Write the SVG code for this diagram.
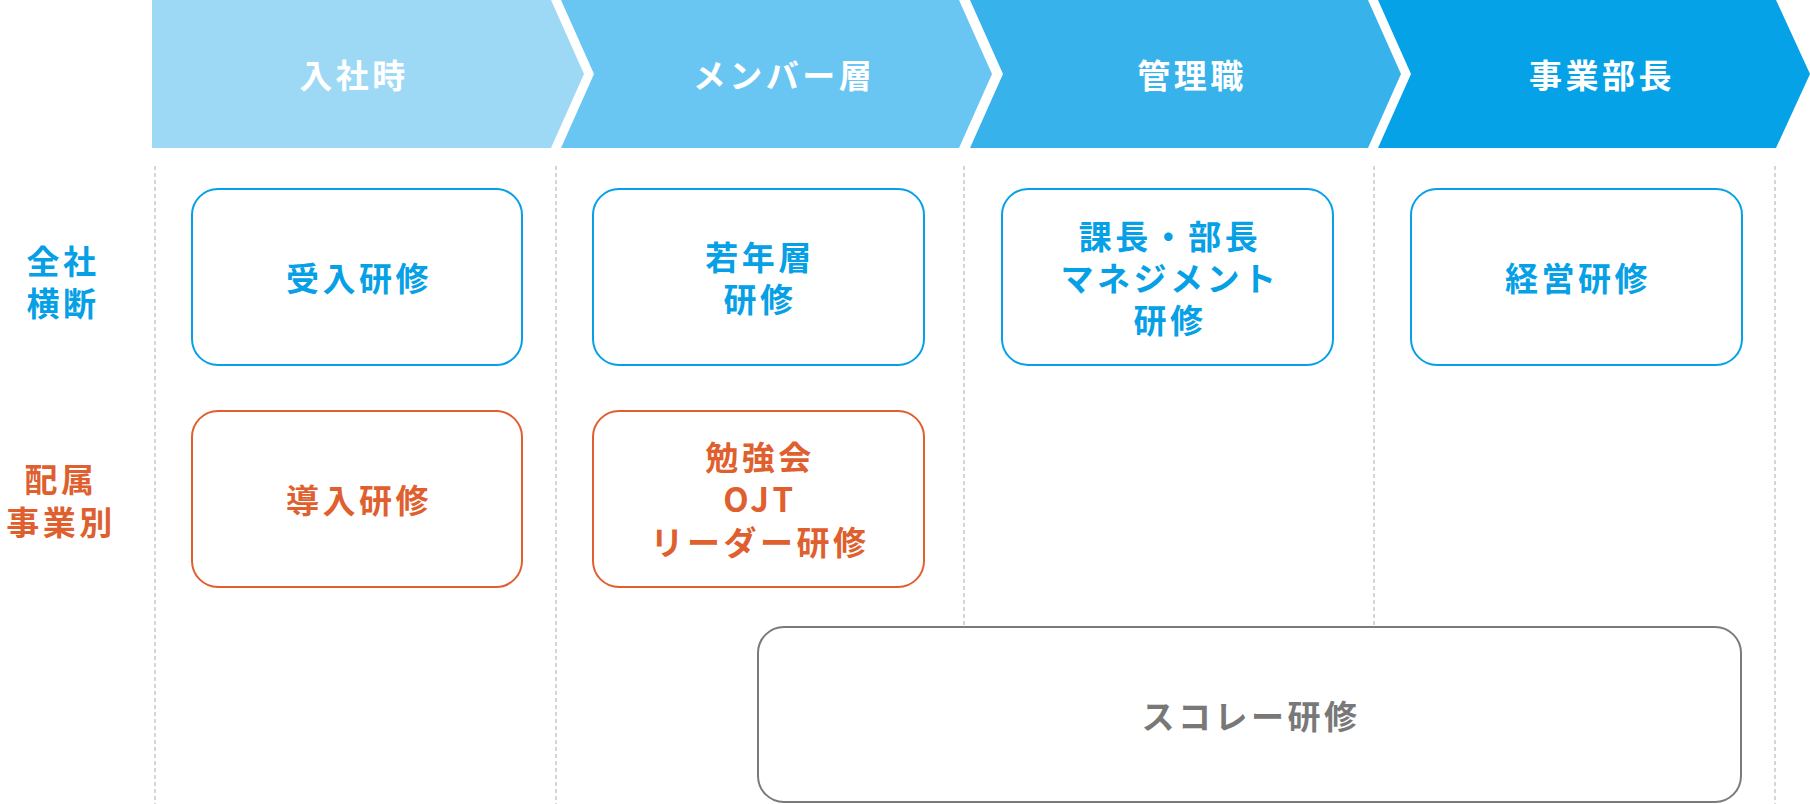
<svg xmlns="http://www.w3.org/2000/svg" width="1810" height="804" viewBox="0 0 1810 804">
<style>
.hd{font-family:"Noto Sans CJK JP","Noto Sans",sans-serif;font-size:33px;font-weight:600;fill:#fff;letter-spacing:3.5px;text-anchor:middle;dominant-baseline:central}
.t{font-family:"Noto Sans CJK JP","Noto Sans",sans-serif;font-size:33px;font-weight:700;letter-spacing:3.5px;text-anchor:middle;dominant-baseline:central}
.blue{fill:#05A0E6}
.orange{fill:#E05F2E}
.gray{fill:#787878}
.bx{fill:#fff;stroke-width:2}
.bb{stroke:#05A0E6}
.bo{stroke:#E05F2E}
.bg{stroke:#7a7a7a}
.dash{stroke:#c8c8c8;stroke-width:1.5;stroke-dasharray:4 3;fill:none}
</style>
<rect width="1810" height="804" fill="#fff"/>
<g id="header">
<g id="h1"><polygon points="152,0 551,0 584,74 551,148 152,148" fill="#9DD9F5"/><text class="hd" x="354" y="74">入社時</text></g>
<g id="h2"><polygon points="561,0 959,0 992,74 959,148 561,148 594,74" fill="#69C6F2"/><text class="hd" x="784" y="74">メンバー層</text></g>
<g id="h3"><polygon points="970,0 1368,0 1401,74 1368,148 970,148 1003,74" fill="#37B2EB"/><text class="hd" x="1192" y="74">管理職</text></g>
<g id="h4"><polygon points="1378,0 1776,0 1810,74 1776,148 1378,148 1411,74" fill="#05A2E7"/><text class="hd" x="1602" y="74">事業部長</text></g>
</g>
<g id="gridlines">
<line class="dash" x1="155" y1="166" x2="155" y2="804"/>
<line class="dash" x1="556" y1="166" x2="556" y2="804"/>
<line class="dash" x1="964" y1="166" x2="964" y2="625"/>
<line class="dash" x1="1374" y1="166" x2="1374" y2="625"/>
<line class="dash" x1="1775" y1="166" x2="1775" y2="804"/>
</g>
<g id="label-zensha"><text class="t blue" x="63" y="260">全社</text><text class="t blue" x="63" y="302">横断</text></g>
<g id="label-haizoku"><text class="t orange" x="61" y="478">配属</text><text class="t orange" x="61" y="521">事業別</text></g>
<g id="n-ukeire"><rect class="bx bb" x="192" y="189" width="330" height="176" rx="26"/><text class="t blue" x="359" y="277">受入研修</text></g>
<g id="n-wakate"><rect class="bx bb" x="593" y="189" width="331" height="176" rx="26"/><text class="t blue" x="760" y="256">若年層</text><text class="t blue" x="760" y="298">研修</text></g>
<g id="n-kacho"><rect class="bx bb" x="1002" y="189" width="331" height="176" rx="26"/><text class="t blue" x="1170" y="235">課長・部長</text><text class="t blue" x="1170" y="277">マネジメント</text><text class="t blue" x="1170" y="319">研修</text></g>
<g id="n-keiei"><rect class="bx bb" x="1411" y="189" width="331" height="176" rx="26"/><text class="t blue" x="1578" y="277">経営研修</text></g>
<g id="n-donyu"><rect class="bx bo" x="192" y="411" width="330" height="176" rx="26"/><text class="t orange" x="359" y="499">導入研修</text></g>
<g id="n-benkyo"><rect class="bx bo" x="593" y="411" width="331" height="176" rx="26"/><text class="t orange" x="760" y="456">勉強会</text><text class="t orange" x="760" y="498">OJT</text><text class="t orange" x="760" y="541">リーダー研修</text></g>
<g id="n-score"><rect class="bx bg" x="758" y="627" width="983" height="175" rx="26" fill="#fff"/><text class="t gray" x="1251" y="715">スコレー研修</text></g>
</svg>
